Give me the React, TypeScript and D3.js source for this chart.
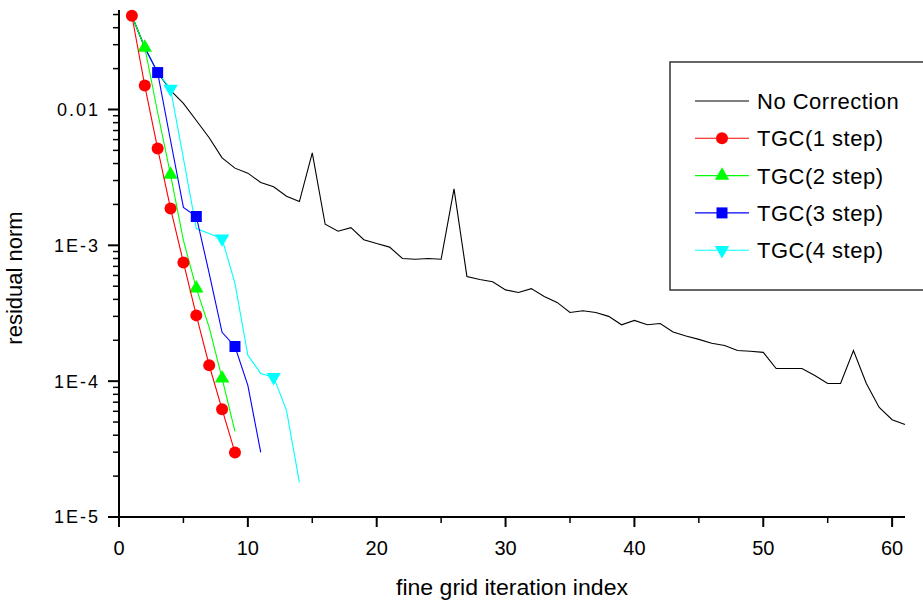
import React from 'react';
import * as d3 from 'd3';

// residual norm per fine grid iteration (index = position + 1)
const noCorrection = [
  0.049, 0.0286, 0.0187, 0.0138, 0.0111, 0.0083, 0.0062, 0.0044, 0.0037, 0.0034,
  0.0029, 0.0027, 0.0023, 0.0021, 0.0048, 0.00143, 0.00127, 0.00135, 0.0011, 0.00103,
  0.00097, 0.0008, 0.00079, 0.0008, 0.00079, 0.0026, 0.00059, 0.00056, 0.00054, 0.00047,
  0.00045, 0.00048, 0.00042, 0.00038, 0.00032, 0.00033, 0.00032, 0.0003, 0.00026, 0.00028,
  0.00026, 0.000266, 0.00023, 0.000215, 0.000203, 0.00019, 0.000183, 0.000168, 0.000166, 0.000163,
  0.000124, 0.000124, 0.000124, 0.00011, 0.000096, 0.000096, 0.000168, 0.000096, 0.000064, 0.000052,
  0.000048,
];
const tgc1 = [0.049, 0.015, 0.00516, 0.00187, 0.000748, 0.000305, 0.000131, 0.000062, 0.0000299];
const tgc2 = [0.049, 0.0286, 0.0095, 0.00332, 0.001086, 0.000482, 0.000249, 0.000105, 0.0000427];
const tgc3 = [0.049, 0.0286, 0.0187, 0.00591, 0.0019, 0.00163, 0.000621, 0.000229, 0.00018, 0.0000931, 0.0000299];
const tgc4 = [0.049, 0.0286, 0.0187, 0.0142, 0.00436, 0.00133, 0.00122, 0.00112, 0.000524, 0.000155, 0.000114, 0.000107, 0.000061, 0.000018];

const xTicks = [0, 10, 20, 30, 40, 50, 60];
const xMinorTicks = [5, 15, 25, 35, 45, 55];
const yTicks = [1e-5, 1e-4, 1e-3, 1e-2];
const yTickLabels = ['1E-5', '1E-4', '1E-3', '0.01'];

const series = [
  { name: 'No Correction', values: noCorrection, color: '#000000', symbol: null, every: 0 },
  { name: 'TGC(1 step)', values: tgc1, color: '#ff0000', symbol: 'circle', every: 1 },
  { name: 'TGC(2 step)', values: tgc2, color: '#00ff00', symbol: 'triangle', every: 2 },
  { name: 'TGC(3 step)', values: tgc3, color: '#0000ff', symbol: 'square', every: 3 },
  { name: 'TGC(4 step)', values: tgc4, color: '#00ffff', symbol: 'triangleDown', every: 4 },
];
// drawing order so cyan sits over black and red is on top
const drawOrder = [0, 4, 3, 2, 1];

const width = 923, height = 603;
const margin = { left: 119, right: 18, top: 10, bottom: 86 };
const font = 'Liberation Sans, Arial, Helvetica, sans-serif';

function Marker({ kind, color, x, y }) {
  if (kind === 'circle') return <circle cx={x} cy={y} r={6} fill={color} />;
  if (kind === 'square') return <rect x={x - 5.5} y={y - 5.5} width={11} height={11} fill={color} />;
  const p = d3.symbol(d3.symbolTriangle, 90)();
  const rot = kind === 'triangleDown' ? 180 : 0;
  return <path d={p} fill={color} transform={`translate(${x},${y}) rotate(${rot})`} />;
}

export default function App() {
  const x = d3.scaleLinear().domain([0, 61]).range([margin.left, width - margin.right]);
  const y = d3.scaleLog().domain([1e-5, 0.054]).range([height - margin.bottom, margin.top]);
  const line = d3.line<number>().x((d, i) => x(i + 1)).y(d => y(d));

  const yMinor: number[] = [];
  [1e-5, 1e-4, 1e-3, 1e-2].forEach(dec => {
    for (let k = 2; k <= 9; k++) {
      const v = k * dec;
      if (v <= 0.054) yMinor.push(v);
    }
  });

  const x0 = margin.left, y0 = height - margin.bottom;
  const legend = { x: 670, y: 62, w: 262, h: 228, row0: 101, rowH: 37.3 };

  return (
    <svg width={width} height={height} style={{ position: 'absolute', left: 0, top: 0, background: '#fff' }} fontFamily={font}>
      <rect width={width} height={height} fill="#fff" />
      {drawOrder.map(si => {
        const s = series[si];
        return (
          <g key={s.name}>
            <path d={line(s.values) || ''} fill="none" stroke={s.color} strokeWidth={1.1} />
            {s.symbol && s.values.map((v, i) => ((i + 1) % s.every === 0 ? (
              <Marker key={i} kind={s.symbol} color={s.color} x={x(i + 1)} y={y(v)} />
            ) : null))}
          </g>
        );
      })}

      {/* axes */}
      <line x1={x0} x2={x0} y1={margin.top} y2={y0 + 1} stroke="#000" strokeWidth={2} />
      <line x1={x0 - 1} x2={width - margin.right} y1={y0} y2={y0} stroke="#000" strokeWidth={2} />
      {yTicks.map((t, i) => (
        <g key={t}>
          <line x1={x0 - 11} x2={x0} y1={y(t)} y2={y(t)} stroke="#000" strokeWidth={2} />
          <text x={x0 - 19} y={y(t)} dy="0.36em" textAnchor="end" fontSize={18} letterSpacing={2} fill="#000">
            {yTickLabels[i]}
          </text>
        </g>
      ))}
      {yMinor.map(t => (
        <line key={t} x1={x0 - 6} x2={x0} y1={y(t)} y2={y(t)} stroke="#000" strokeWidth={1.5} />
      ))}
      {xTicks.map(t => (
        <g key={t}>
          <line x1={x(t)} x2={x(t)} y1={y0} y2={y0 + 10} stroke="#000" strokeWidth={2} />
          <text x={x(t)} y={555} textAnchor="middle" fontSize={20} fill="#000">{t}</text>
        </g>
      ))}
      {xMinorTicks.map(t => (
        <line key={t} x1={x(t)} x2={x(t)} y1={y0} y2={y0 + 6} stroke="#000" strokeWidth={1.5} />
      ))}
      <text x={(x0 + width - margin.right) / 2} y={595} textAnchor="middle" fontSize={22} textLength={232} lengthAdjust="spacingAndGlyphs" fill="#000">
        fine grid iteration index
      </text>
      <text transform={`translate(22,278) rotate(-90)`} textAnchor="middle" fontSize={22} fill="#000">
        residual norm
      </text>

      {/* legend */}
      <rect x={legend.x} y={legend.y} width={legend.w} height={legend.h} fill="#fff" stroke="#333" strokeWidth={1.5} />
      {series.map((s, i) => {
        const ry = legend.row0 + i * legend.rowH;
        return (
          <g key={s.name}>
            <line x1={695} x2={749} y1={ry} y2={ry} stroke={s.color} strokeWidth={1.1} />
            {s.symbol && <Marker kind={s.symbol} color={s.color} x={722} y={ry} />}
            <text x={757} y={ry} dy="0.36em" fontSize={22} letterSpacing={0.5} fill="#000">{s.name}</text>
          </g>
        );
      })}
    </svg>
  );
}
